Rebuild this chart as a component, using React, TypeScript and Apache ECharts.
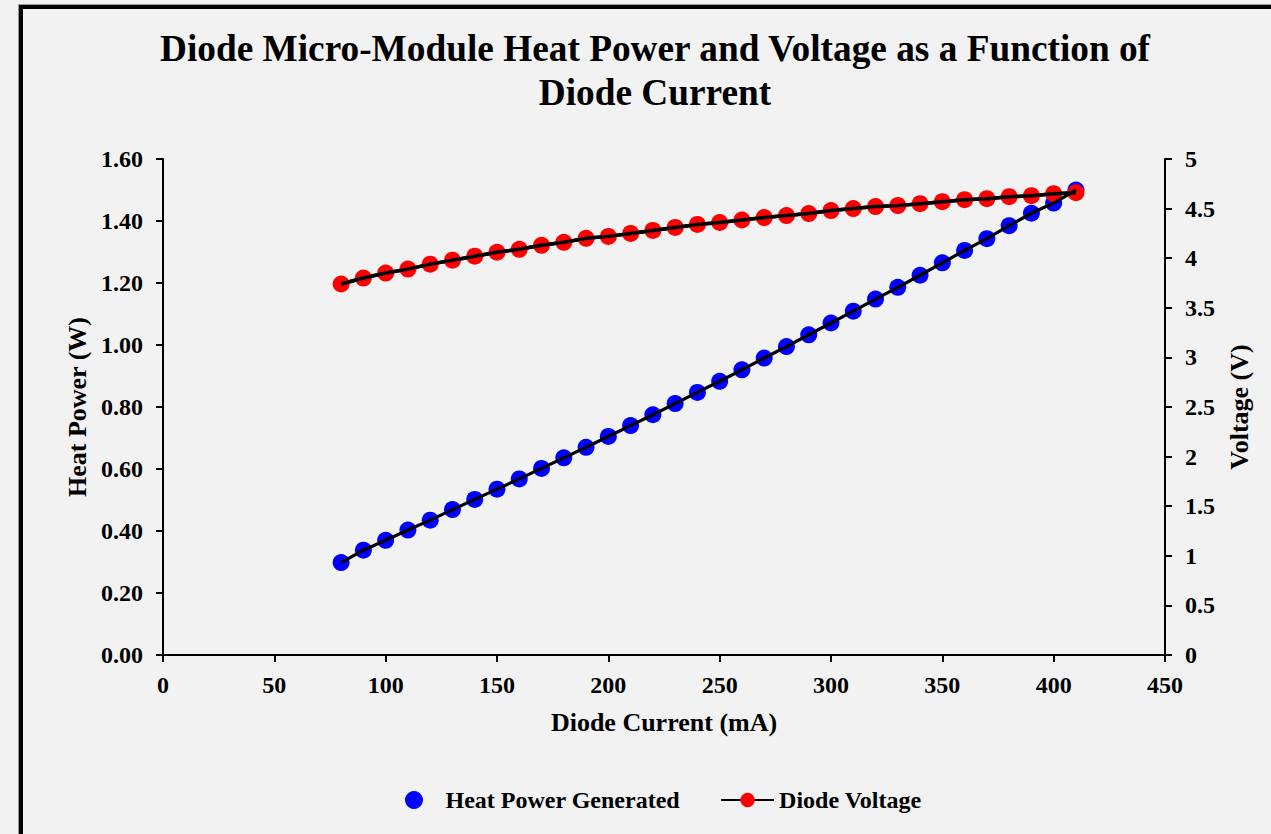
import React, { useEffect, useRef } from "react";
import * as echarts from "echarts";

const currentMA = [80, 90, 100, 110, 120, 130, 140, 150, 160, 170, 180, 190, 200, 210, 220, 230, 240, 250, 260, 270, 280, 290, 300, 310, 320, 330, 340, 350, 360, 370, 380, 390, 400, 410];
const heatPower = [0.298, 0.338, 0.370, 0.403, 0.435, 0.469, 0.502, 0.535, 0.568, 0.602, 0.636, 0.670, 0.705, 0.740, 0.775, 0.811, 0.847, 0.883, 0.920, 0.958, 0.995, 1.033, 1.071, 1.109, 1.148, 1.186, 1.225, 1.265, 1.305, 1.343, 1.385, 1.425, 1.458, 1.500];
const diodeVoltage = [3.74, 3.80, 3.85, 3.89, 3.94, 3.98, 4.02, 4.06, 4.09, 4.13, 4.16, 4.20, 4.22, 4.25, 4.28, 4.31, 4.34, 4.36, 4.385, 4.41, 4.43, 4.45, 4.48, 4.50, 4.52, 4.53, 4.55, 4.57, 4.59, 4.60, 4.62, 4.63, 4.65, 4.66];

const titleText = "Diode Micro-Module Heat Power and Voltage as a Function of\nDiode Current";
const heatName = "Heat Power Generated";
const voltName = "Diode Voltage";

export default function App() {
  const ref = useRef<HTMLDivElement>(null);
  useEffect(() => {
    if (!ref.current) return;
    const chart = echarts.init(ref.current, null, { renderer: "svg" });
    const font = "'Liberation Serif', 'Times New Roman', serif";
    const heatData = currentMA.map((x, i) => [x, heatPower[i]]);
    const voltData = currentMA.map((x, i) => [x, diodeVoltage[i]]);
    const axisLine = { show: true, lineStyle: { color: "#000", width: 2 } };
    const axisTick = { show: true, inside: false, length: 7, lineStyle: { color: "#000", width: 2 } };
    const labelStyle = { color: "#000", fontFamily: font, fontWeight: "bold" as const, fontSize: 24 };
    const nameStyle = { color: "#000", fontFamily: font, fontWeight: "bold" as const, fontSize: 26 };
    chart.setOption({
      animation: false,
      backgroundColor: "#f2f2f2",
      textStyle: { fontFamily: font },
      title: {
        text: titleText,
        left: 650,
        top: 21,
        textAlign: "center",
        textStyle: { fontFamily: font, fontWeight: "bold", fontSize: 37.3, lineHeight: 44, color: "#000" },
      },
      graphic: [
        { type: "rect", shape: { x: 18.5, y: 4.5, width: 1300, height: 900 }, style: { fill: "none", stroke: "#999", lineWidth: 1 }, silent: true },
        { type: "rect", shape: { x: 21, y: 7, width: 1300, height: 900 }, style: { fill: "none", stroke: "#000", lineWidth: 4 }, silent: true },
      ],
      legend: {
        left: 400,
        top: 783,
        itemWidth: 53,
        itemHeight: 18,
        itemGap: 40,
        textStyle: { ...labelStyle, fontSize: 24 },
        data: [{ name: heatName, icon: "circle" }, { name: voltName }],
      },
      grid: { left: 163, right: 106, top: 159, bottom: 179, containLabel: false },
      xAxis: {
        type: "value",
        min: 0,
        max: 450,
        interval: 50,
        name: "Diode Current (mA)",
        nameLocation: "middle",
        nameGap: 54,
        nameTextStyle: nameStyle,
        axisLine,
        axisTick,
        splitLine: { show: false },
        axisLabel: { ...labelStyle, margin: 18 },
      },
      yAxis: [
        {
          type: "value",
          min: 0,
          max: 1.6,
          interval: 0.2,
          name: "Heat Power (W)",
          nameLocation: "middle",
          nameGap: 72,
          nameRotate: 90,
          nameTextStyle: nameStyle,
          axisLine,
          axisTick,
          splitLine: { show: false },
          axisLabel: { ...labelStyle, margin: 20, formatter: (v: number) => v.toFixed(2) },
        },
        {
          type: "value",
          min: 0,
          max: 5,
          interval: 0.5,
          position: "right",
          name: "Voltage (V)",
          nameLocation: "middle",
          nameGap: 61,
          nameRotate: 90,
          nameTextStyle: nameStyle,
          axisLine,
          axisTick,
          splitLine: { show: false },
          axisLabel: { ...labelStyle, margin: 20, formatter: (v: number) => String(v) },
        },
      ],
      series: [
        {
          name: heatName,
          type: "scatter",
          yAxisIndex: 0,
          data: heatData,
          symbol: "circle",
          symbolSize: 17,
          itemStyle: { color: "#0000ff", opacity: 1 },
          z: 2,
        },
        {
          name: voltName,
          type: "line",
          yAxisIndex: 1,
          data: voltData,
          symbol: "circle",
          symbolSize: 17,
          showSymbol: true,
          itemStyle: { color: "#ff0000", borderWidth: 0, opacity: 1 },
          lineStyle: { color: "#000", width: 3.5 },
          z: 3,
        },
        {
          name: "heatTrend",
          type: "line",
          yAxisIndex: 0,
          data: heatData,
          symbol: "none",
          lineStyle: { color: "#000", width: 3.2 },
          z: 4,
        },
        {
          name: "voltOverlay",
          type: "line",
          yAxisIndex: 1,
          data: voltData,
          symbol: "none",
          lineStyle: { color: "#000", width: 3.5 },
          z: 5,
        },
      ],
    });
    return () => chart.dispose();
  }, []);
  return <div ref={ref} style={{ position: "fixed", left: 0, top: 0, width: 1271, height: 834 }} />;
}
